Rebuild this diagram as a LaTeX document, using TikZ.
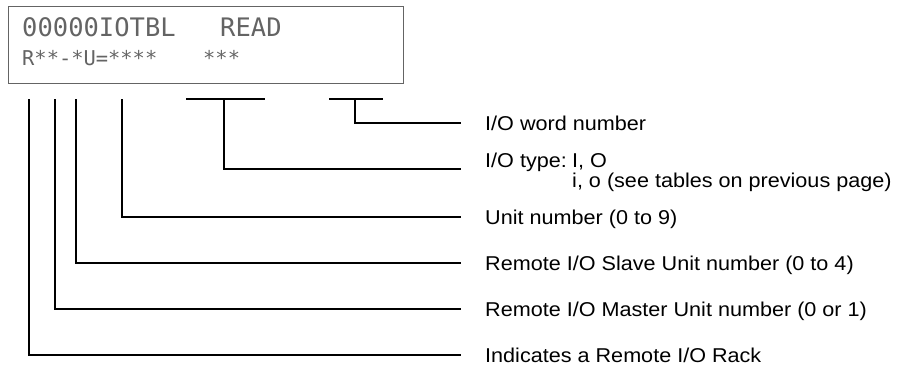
\documentclass[tikz,border=0pt]{standalone}
\usepackage{fontspec}
\setmainfont{Liberation Sans}[FakeStretch=1.08]
\newfontfamily\lcdfont{DejaVu Sans Mono}
\usetikzlibrary{positioning}
\definecolor{lcdgray}{RGB}{100,100,100}

\begin{document}
\begin{tikzpicture}[x=1pt, y=-1pt,
    lcdbox/.style={draw=lcdgray, line width=1.3pt, minimum width=395pt, minimum height=77pt, inner sep=0pt, anchor=north west},
    lcdtext/.style={anchor=base west, inner sep=0pt, text=lcdgray},
    desc/.style={anchor=west, inner sep=0pt, text height=14pt, text depth=0pt, font=\fontsize{20}{21}\selectfont},
    leader/.style={line width=1.2pt}]
    \useasboundingbox (0,0) rectangle (905,373);

    \node[lcdbox] (lcd) at (8,6) {};
    \node[lcdtext, font=\lcdfont\fontsize{25.5}{26}\selectfont] (rowA) at (22,36) {00000IOTBL};
    \node[lcdtext, font=\lcdfont\fontsize{25.5}{26}\selectfont] (cmd) at (220,36) {READ};
    \node[lcdtext, font=\lcdfont\fontsize{20.4}{21}\selectfont] (rowB) at (22,65) {R**-*U=****};
    \node[lcdtext, font=\lcdfont\fontsize{20.4}{21}\selectfont] (words) at (203,65) {***};

    \node[desc] (wordno) at (485,123) {I/O word number};
    \node[desc] (iotype) at (485,160) {I/O type:};
    \node[desc] (iolist) at (572,160) {I, O};
    \node[desc] (iolistb) at (572,180) {i, o (see tables on previous page)};
    \node[desc] (unitno) at (485,217) {Unit number (0 to 9)};
    \node[desc] (slaveno) at (485,263) {Remote I/O Slave Unit number (0 to 4)};
    \node[desc] (masterno) at (485,309) {Remote I/O Master Unit number (0 or 1)};
    \node[desc] (rack) at (485,355) {Indicates a Remote I/O Rack};

    \coordinate (rackTop) at (29,99);
    \coordinate (masterTop) at (55,99);
    \coordinate (slaveTop) at (76,99);
    \coordinate (unitTop) at (122,99);
    \coordinate (typeL) at (186,99);
    \coordinate (typeR) at (265,99);
    \coordinate (typeTop) at (224,99);
    \coordinate (wordL) at (329,99);
    \coordinate (wordR) at (383,99);
    \coordinate (wordTop) at (355,99);

    \draw[leader] (typeL) -- (typeR);
    \draw[leader] (wordL) -- (wordR);
    \draw[leader] (wordTop) |- ([xshift=-24pt]wordno.west);
    \draw[leader] (typeTop) |- ([xshift=-24pt, yshift=-9pt]iotype.west);
    \draw[leader] (unitTop) |- ([xshift=-24pt]unitno.west);
    \draw[leader] (slaveTop) |- ([xshift=-24pt]slaveno.west);
    \draw[leader] (masterTop) |- ([xshift=-24pt]masterno.west);
    \draw[leader] (rackTop) |- ([xshift=-24pt]rack.west);
\end{tikzpicture}
\end{document}
